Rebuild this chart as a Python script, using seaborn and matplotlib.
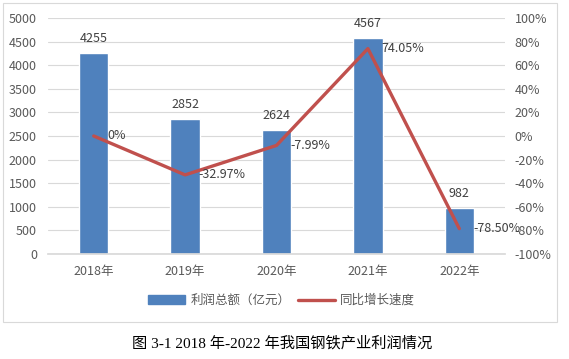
import matplotlib
matplotlib.use('Agg')
import matplotlib.pyplot as plt
from matplotlib.patches import Rectangle
from matplotlib.lines import Line2D
from matplotlib.ticker import FuncFormatter
import seaborn as sns
import pandas as pd
import numpy as np

sns.set_theme(style='white')
plt.rcParams['font.family'] = ['Noto Sans CJK SC', 'DejaVu Sans']

years = ['2018年', '2019年', '2020年', '2021年', '2022年']
profit = [4255, 2852, 2624, 4567, 982]
growth = [0.0, -32.97, -7.99, 74.05, -78.50]
growth_labels = ['0%', '-32.97%', '-7.99%', '74.05%', '-78.50%']

bar_color = '#4f81bd'
line_color = '#c0504d'
text_color = '#595959'

df = pd.DataFrame({'year': years, 'profit': profit, 'growth': growth})

fig = plt.figure(figsize=(5.69, 3.59), dpi=100)
ax = fig.add_axes([0.0844, 0.2925, 0.8031, 0.6574])

sns.barplot(data=df, x='year', y='profit', color=bar_color, width=0.32,
            saturation=1, ax=ax, zorder=2)
ax.set_ylim(0, 5000)
ax.set_yticks(np.arange(0, 5001, 500))
ax.set_xlim(-0.5, 4.5)
ax.set_xlabel('')
ax.set_ylabel('')
ax.grid(axis='y', color='#d9d9d9', linewidth=0.8, zorder=0)
for s in ['left', 'right', 'top']:
    ax.spines[s].set_visible(False)
ax.spines['bottom'].set_color('#d9d9d9')
ax.tick_params(axis='both', labelsize=9, colors=text_color, length=0, pad=8)
ax.tick_params(axis='x', pad=8)

for i, v in enumerate(profit):
    ax.text(i, v + 170, str(v), ha='center', va='bottom', fontsize=9, color='#404040')

ax2 = ax.twinx()
sns.lineplot(x=np.arange(len(growth)), y=growth, color=line_color, linewidth=2.4,
             ax=ax2, zorder=3)
ax2.set_ylim(-100, 100)
ax2.set_yticks(np.arange(-100, 101, 20))
ax2.yaxis.set_major_formatter(FuncFormatter(lambda v, p: '{:.0f}%'.format(v)))
for s in ['left', 'right', 'top', 'bottom']:
    ax2.spines[s].set_visible(False)
ax2.tick_params(axis='y', labelsize=9, colors=text_color, length=0, pad=7)

for i, (v, lab) in enumerate(zip(growth, growth_labels)):
    ax2.text(i + 0.15, v, lab, ha='left', va='center', fontsize=9,
             color='#404040')

handles = [Rectangle((0, 0), 1, 1, color=bar_color),
           Line2D([0], [0], color=line_color, linewidth=2.4)]
fig.legend(handles, ['利润总额（亿元）', '同比增长速度'], loc='center',
           bbox_to_anchor=(0.495, 0.163), ncol=2, frameon=False, fontsize=9,
           labelcolor=text_color, handlelength=3.0, columnspacing=0.6,
           handletextpad=0.4)

fig.patches.append(Rectangle((3 / 569, 1 - 322 / 359), 554 / 569, 319 / 359,
                             transform=fig.transFigure, fill=False,
                             edgecolor='#d9d9d9', linewidth=0.8))

fig.text(0.495, 1 - 343 / 359, '图 3-1 2018 年-2022 年我国钢铁产业利润情况', ha='center',
         va='center', fontsize=11, color='#000000',
         family=['Liberation Serif', 'Noto Sans CJK SC'])

fig.savefig('out.png', dpi=100, facecolor='white')
